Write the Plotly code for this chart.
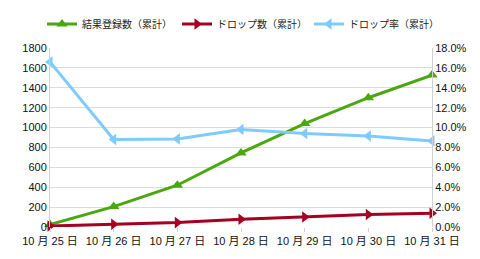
import plotly.graph_objects as go

dates = ["10 月 25 日", "10 月 26 日", "10 月 27 日", "10 月 28 日", "10 月 29 日", "10 月 30 日", "10 月 31 日"]
registrations = [25, 205, 420, 745, 1040, 1300, 1528]
drops = [10, 27, 44, 78, 100, 125, 138]
drop_rate = [0.166, 0.088, 0.0886, 0.098, 0.094, 0.0915, 0.0866]

names = ["結果登録数（累計）", "ドロップ数（累計）", "ドロップ率（累計）"]
colors = ["#4aa80f", "#a50021", "#7fcbff"]

font_family = "Liberation Sans, Noto Sans CJK JP, sans-serif"

fig = go.Figure()
fig.add_trace(go.Scatter(x=dates, y=registrations, name=names[0], mode="lines+markers",
                         line=dict(color=colors[0], width=3), legend="legend",
                         marker=dict(symbol="triangle-up", size=10, color=colors[0]),
                         cliponaxis=False))
fig.add_trace(go.Scatter(x=dates, y=drops, name=names[1], mode="lines+markers",
                         line=dict(color=colors[1], width=3), legend="legend2",
                         marker=dict(symbol="triangle-right", size=10, color=colors[1]),
                         cliponaxis=False))
fig.add_trace(go.Scatter(x=dates, y=drop_rate, name=names[2], mode="lines+markers", yaxis="y2",
                         line=dict(color=colors[2], width=3), legend="legend3",
                         marker=dict(symbol="triangle-left", size=10, color=colors[2]),
                         cliponaxis=False))

leg = dict(orientation="h", xanchor="left", xref="container",
           y=0.907, yanchor="middle", yref="container",
           font=dict(size=10, color="#222"), itemwidth=30, bgcolor="rgba(0,0,0,0)")

fig.update_layout(
    width=480, height=259,
    margin=dict(l=50, r=48, t=48, b=32, autoexpand=False),
    paper_bgcolor="white", plot_bgcolor="white",
    font=dict(family=font_family, size=11, color="#111"),
    showlegend=True,
    legend=dict(leg, x=42 / 480),
    legend2=dict(leg, x=177 / 480),
    legend3=dict(leg, x=309 / 480),
    xaxis=dict(type="category", range=[0, 6], showgrid=False, ticks="outside", ticklen=4,
               tickcolor="#d0d0d0", showline=False, zeroline=False),
    yaxis=dict(range=[0, 1800], dtick=200, showgrid=True, gridcolor="#dcdcdc", gridwidth=1,
               showline=True, linecolor="#d0d0d0", zeroline=False),
    yaxis2=dict(range=[0, 0.18], dtick=0.02, tickformat=".1%", overlaying="y", side="right",
                showgrid=False, showline=True, linecolor="#d0d0d0", zeroline=False),
)

fig.write_html("out.html")
